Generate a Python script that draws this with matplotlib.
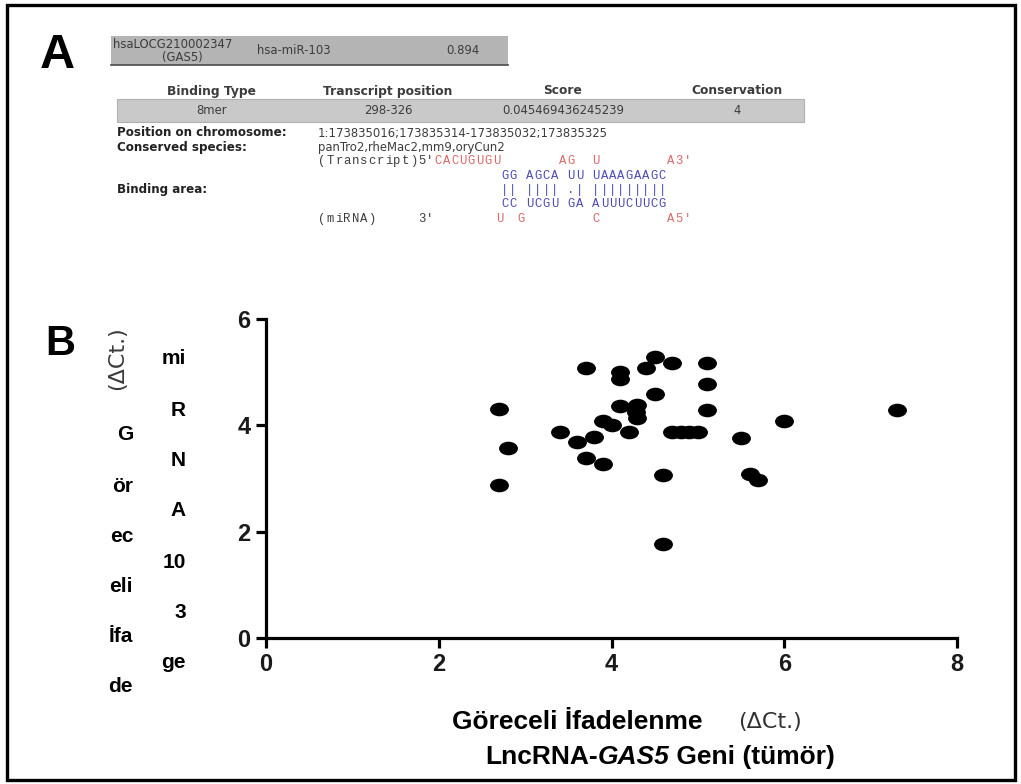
import numpy as np
import matplotlib
matplotlib.use("Agg")
import matplotlib.pyplot as plt
from matplotlib.patches import Rectangle
from matplotlib.path import Path
import matplotlib.transforms as mtrans

# --- data -------------------------------------------------------------
# LncRNA-GAS5 (tumour) dCt vs miRNA-103 dCt
gas5_dct = [2.7, 2.8, 2.7, 3.4, 3.6, 3.8, 3.7, 3.9, 3.7, 3.9,
            4.0, 4.1, 4.1, 4.1, 4.2, 4.3, 4.3, 4.28, 4.4, 4.5,
            4.5, 4.7, 4.6, 4.6, 4.7, 4.8, 4.9, 5.0, 5.1, 5.1,
            5.1, 5.5, 5.6, 5.7, 6.0, 7.3]
mir103_dct = [4.3, 3.57, 2.87, 3.88, 3.68, 3.78, 3.38, 3.27, 5.08, 4.08,
              4.0, 5.0, 4.87, 4.37, 3.87, 4.39, 4.14, 4.25, 5.08, 5.29,
              4.58, 5.18, 3.06, 1.76, 3.87, 3.87, 3.87, 3.87, 5.18, 4.78,
              4.28, 3.76, 3.08, 2.98, 4.08, 4.28]
x_ticks = [0, 2, 4, 6, 8]
y_ticks = [0, 2, 4, 6]

# binding prediction table
pair_header = ["hsaLOCG210002347", "(GAS5)", "hsa-miR-103", "0.894"]
col_names = ["Binding Type", "Transcript position", "Score", "Conservation"]
col_values = ["8mer", "298-326", "0.045469436245239", "4"]
chrom_pos = "1:173835016;173835314-173835032;173835325"
species = "panTro2,rheMac2,mm9,oryCun2"
duplex = ["GG AGCA UU UAAAGAAGC",
          "|| |||| .| |||||||||",
          "CC UCGU GA AUUUCUUCG"]

W, H = 1021, 784


def fx(px):
    return px / W


def fy(py):
    return 1 - py / H


fig = plt.figure(figsize=(W / 100, H / 100), dpi=100)
fig.patch.set_facecolor("white")
renderer = fig.canvas.get_renderer()


def run_text(x0, y0, parts, **kw):
    # draw text pieces one after another on the same baseline
    x = x0
    for s, extra in parts:
        opts = dict(kw)
        opts.update(extra)
        t = fig.text(fx(x), fy(y0), s, ha="left", va="center", **opts)
        x += t.get_window_extent(renderer).width
    return x


# outer frame
fig.patches.append(Rectangle((fx(7), fy(780)), fx(1015) - fx(7), fy(5) - fy(780),
                             transform=fig.transFigure, fill=False,
                             edgecolor="black", lw=2.4, zorder=10))

BOLD = ["Liberation Sans", "DejaVu Sans"]
NARROW = ["Liberation Sans Narrow", "Liberation Sans", "DejaVu Sans"]
WEB = "DejaVu Sans"
MONO = "Liberation Mono"
GREY = "#3c3c3c"
RED = "#d86a6a"
BLUE = "#4b4bb5"

# ---------------- panel A ----------------
fig.text(fx(40), fy(56), "A", fontsize=35, fontweight="bold", family=BOLD,
         ha="left", va="center")

fig.patches.append(Rectangle((fx(111), fy(65)), fx(508) - fx(111), fy(36) - fy(65),
                             transform=fig.transFigure, facecolor="#b4b4b4",
                             edgecolor="none"))
fig.lines.append(plt.Line2D([fx(111), fx(508)], [fy(65), fy(65)],
                            transform=fig.transFigure, color="#4a4a4a", lw=1.2))
fig.text(fx(113), fy(44), pair_header[0], fontsize=8.4, family=WEB,
         color=GREY, ha="left", va="center")
fig.text(fx(182), fy(58), pair_header[1], fontsize=8.4, family=WEB,
         color=GREY, ha="center", va="center")
fig.text(fx(257), fy(51), pair_header[2], fontsize=8.4, family=WEB,
         color=GREY, ha="left", va="center")
fig.text(fx(463), fy(51), pair_header[3], fontsize=8.4, family=WEB,
         color=GREY, ha="center", va="center")

col_x = [211, 388, 563, 737]
for cx, name, val in zip(col_x, col_names, col_values):
    fig.text(fx(cx), fy(91), name, fontsize=8.8, fontweight="bold", family=WEB,
             color=GREY, ha="center", va="center")
    fig.text(fx(cx), fy(111), val, fontsize=8.4, family=WEB,
             color=GREY, ha="center", va="center")
fig.patches.insert(0, Rectangle((fx(117), fy(122)), fx(804) - fx(117), fy(99) - fy(122),
                                transform=fig.transFigure, facecolor="#c9c9c9",
                                edgecolor="#b0b0b0", lw=0.8))

rows_y = {"pos": 133, "spec": 147, "tr": 161, "gg": 176, "bars": 190,
          "cc": 204, "mi": 219}
fig.text(fx(117), fy(rows_y["pos"]), "Position on chromosome:", fontsize=8.6,
         fontweight="bold", family=WEB, color="#222222", ha="left", va="center")
fig.text(fx(318), fy(rows_y["pos"]), chrom_pos, fontsize=8.4, family=WEB, color=GREY,
         ha="left", va="center")
fig.text(fx(117), fy(rows_y["spec"]), "Conserved species:", fontsize=8.6,
         fontweight="bold", family=WEB, color="#222222", ha="left", va="center")
fig.text(fx(318), fy(rows_y["spec"]), species, fontsize=8.4, family=WEB, color=GREY,
         ha="left", va="center")
fig.text(fx(117), fy(rows_y["bars"]), "Binding area:", fontsize=8.6, fontweight="bold",
         family=WEB, color="#222222", ha="left", va="center")

# monospace duplex, one character per grid column (centred in its cell)
cw = 8.3
col0 = 318 + 22 * cw      # column of the first paired base
ms = 8.8


def mono(col, y, s, color):
    for i, ch in enumerate(s):
        if ch == " ":
            continue
        fig.text(fx(col0 + (col + i + 0.5) * cw), fy(y), ch, fontsize=ms,
                 family=MONO, color=color, ha="center", va="center")


mono(-22, rows_y["tr"], "(Transcript)5'", GREY)
mono(-8, rows_y["tr"], "CACUGUGU", RED)
mono(7, rows_y["tr"], "AG", RED)
mono(11, rows_y["tr"], "U", RED)
mono(20, rows_y["tr"], "A3'", RED)
for row, key in zip(duplex, ["gg", "bars", "cc"]):
    mono(0, rows_y[key], row, BLUE)
mono(-22, rows_y["mi"], "(miRNA)", GREY)
mono(-10, rows_y["mi"], "3'", GREY)
mono(-0.6, rows_y["mi"], "U", RED)
mono(2, rows_y["mi"], "G", RED)
mono(11, rows_y["mi"], "C", RED)
mono(20, rows_y["mi"], "A5'", RED)

# ---------------- panel B ----------------
fig.text(fx(45), fy(344), "B", fontsize=30, fontweight="bold", family=BOLD,
         ha="left", va="center")

ax = fig.add_axes([fx(266), fy(638), fx(957) - fx(266), fy(319) - fy(638)])
ell = Path.unit_circle().transformed(mtrans.Affine2D().scale(1.0, 0.72))
ax.scatter(gas5_dct, mir103_dct, marker=ell, s=185, c="black", linewidths=0,
           clip_on=False, zorder=3)
ax.set_xlim(0, 8)
ax.set_ylim(0, 6)
ax.set_xticks(x_ticks)
ax.set_yticks(y_ticks)
for side in ["top", "right"]:
    ax.spines[side].set_visible(False)
for side in ["left", "bottom"]:
    ax.spines[side].set_linewidth(2.3)
ax.tick_params(axis="both", length=7, width=2.3, direction="out", pad=4)
for lab in ax.get_xticklabels() + ax.get_yticklabels():
    lab.set_fontsize(17)
    lab.set_fontweight("bold")
    lab.set_family(BOLD)
    lab.set_color("#1a1a1a")

# x axis title
fig.text(fx(452), fy(722), "Göreceli İfadelenme", fontsize=19, fontweight="bold",
         family=NARROW, ha="left", va="center")
fig.text(fx(738), fy(722), "(ΔCt.)", fontsize=16, family=["DejaVu Sans"],
         color="#333333", ha="left", va="center")
run_text(485, 757, [("LncRNA-", {}),
                    ("GAS5", {"style": "italic"}),
                    (" Geni (tümör)", {})],
         fontsize=19, fontweight="bold", family=NARROW)

# y axis title, broken into two stacked columns
left_col = ["G", "ör", "ec", "eli", "İfa", "de"]
left_y = [435, 487, 537, 587, 637, 687]
right_col = ["mi", "R", "N", "A", "10", "3", "ge"]
right_y = [358, 410, 460, 510, 562, 612, 663]
for t, yy in zip(left_col, left_y):
    fig.text(fx(133), fy(yy), t, fontsize=15, fontweight="bold", family=BOLD,
             ha="right", va="center")
for t, yy in zip(right_col, right_y):
    fig.text(fx(186), fy(yy), t, fontsize=15, fontweight="bold", family=BOLD,
             ha="right", va="center")
fig.text(fx(117), fy(358), "(ΔCt.)", fontsize=16, family=["DejaVu Sans"], color="#3a3a3a",
         rotation=90, ha="center", va="center")

fig.savefig("out.png", dpi=100)
